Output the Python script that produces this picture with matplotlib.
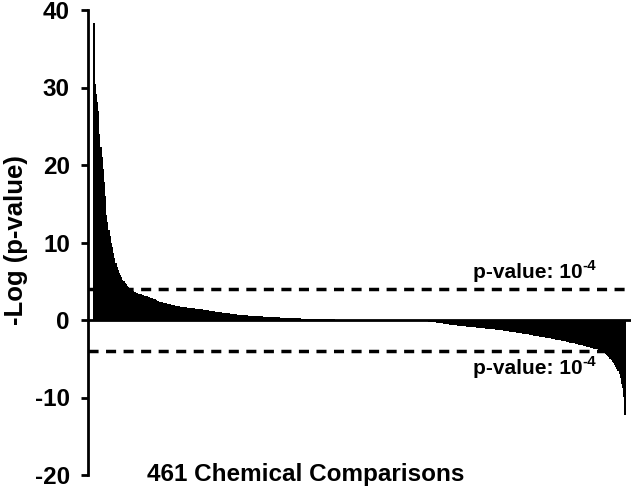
import matplotlib
matplotlib.use("Agg")
import matplotlib.pyplot as plt
import numpy as np

plt.rcParams['font.family'] = ['Liberation Sans', 'DejaVu Sans']
plt.rcParams['font.weight'] = 'bold'
plt.rcParams['axes.unicode_minus'] = False

# -Log(p-value) for 461 chemical comparisons, sorted descending
seg_a = [38.3, 30.5, 29.2, 28.1, 27.0, 24.0, 22.3, 21.0, 19.5, 17.8,
         16.0, 13.5, 12.6, 11.6, 10.8, 10.0, 9.4, 8.6, 8.0, 7.4,
         6.8, 6.5, 6.1, 5.8, 5.5, 5.2, 5.0, 4.8, 4.6, 4.45,
         4.3, 4.15, 4.0, 3.85, 3.7, 3.6, 3.55, 3.5, 3.45, 3.4,
         3.35, 3.3, 3.25, 3.2, 3.15, 3.1, 3.05, 3.0, 2.95, 2.9]
seg_b = [2.85, 2.8, 2.72, 2.65, 2.58, 2.5, 2.44, 2.38, 2.3, 2.27,
         2.23, 2.2, 2.16, 2.13, 2.1, 2.06, 2.03, 2.0, 1.96, 1.93,
         1.9, 1.86, 1.83, 1.8, 1.76]
seg_c = [1.72, 1.70, 1.68, 1.66, 1.64, 1.62, 1.60, 1.58, 1.56, 1.54,
         1.52, 1.50, 1.49, 1.47, 1.45, 1.44, 1.42]
seg_d = [1.40, 1.38, 1.36, 1.33, 1.31, 1.28, 1.26, 1.23, 1.21, 1.18,
         1.16, 1.14, 1.11, 1.09, 1.07, 1.04, 1.02]
seg_e = [1.00, 0.98, 0.96, 0.94, 0.92, 0.90, 0.88, 0.86, 0.84, 0.82,
         0.80, 0.78, 0.76, 0.74, 0.72, 0.70, 0.68, 0.66]
seg_f = [0.65, 0.64, 0.63, 0.62, 0.61, 0.60, 0.59, 0.58, 0.57, 0.56,
         0.55, 0.54, 0.53, 0.52, 0.51, 0.50, 0.49, 0.48, 0.47, 0.46,
         0.45, 0.44, 0.43, 0.42, 0.41, 0.40]
seg_g = [0.39, 0.385, 0.38, 0.37, 0.36, 0.355, 0.35, 0.34, 0.33, 0.32,
         0.31, 0.30, 0.295, 0.29, 0.28, 0.27, 0.26, 0.255, 0.25, 0.24,
         0.23, 0.22, 0.215, 0.21, 0.205, 0.20]
seg_h = [0.195, 0.19, 0.185, 0.18, 0.175, 0.17, 0.165, 0.16, 0.155, 0.15,
         0.145, 0.14, 0.135, 0.13, 0.125, 0.12, 0.11, 0.10]
seg_i = [0.095, 0.09, 0.088, 0.085, 0.082, 0.08, 0.078, 0.075, 0.072, 0.07,
         0.068, 0.065, 0.062, 0.06, 0.058, 0.055, 0.052, 0.05, 0.048, 0.045,
         0.042, 0.04, 0.038, 0.036, 0.034, 0.032, 0.03, 0.028, 0.026, 0.024,
         0.022, 0.02, 0.018, 0.016, 0.014, 0.012, 0.01, 0.009, 0.008, 0.006,
         0.005, 0.004, 0.002, 0.001]
seg_j = [-0.001, -0.002, -0.004, -0.005, -0.006, -0.008, -0.01, -0.012, -0.014, -0.016,
         -0.018, -0.02, -0.022, -0.025, -0.028, -0.03, -0.033, -0.036, -0.04, -0.043,
         -0.046, -0.05, -0.054, -0.058, -0.062, -0.066, -0.07, -0.075, -0.08, -0.085,
         -0.09, -0.095, -0.1, -0.105, -0.11, -0.115, -0.12, -0.125, -0.13, -0.135,
         -0.14, -0.145, -0.15, -0.155, -0.16, -0.165, -0.17, -0.18, -0.19, -0.2]
seg_k = [-0.22, -0.24, -0.26, -0.28, -0.3, -0.32, -0.34, -0.36, -0.38, -0.4,
         -0.42, -0.44, -0.46, -0.48, -0.51, -0.54, -0.57, -0.6]
seg_l = [-0.62, -0.63, -0.65, -0.66, -0.68, -0.7, -0.71, -0.73, -0.74, -0.76,
         -0.78, -0.79, -0.81, -0.82, -0.84, -0.86, -0.87, -0.89, -0.9, -0.92,
         -0.93, -0.95]
seg_m = [-0.97, -0.98, -1.0, -1.02, -1.03, -1.05, -1.06, -1.08, -1.1, -1.11,
         -1.13, -1.14, -1.16, -1.18, -1.19, -1.21, -1.22, -1.24, -1.26, -1.27,
         -1.29, -1.3]
seg_n = [-1.32, -1.34, -1.37, -1.39, -1.42, -1.44, -1.46, -1.49, -1.51, -1.54,
         -1.56, -1.58, -1.61, -1.63, -1.66, -1.68, -1.7, -1.73, -1.75, -1.78,
         -1.8, -1.82, -1.85, -1.87, -1.9]
seg_o = [-1.93, -1.96, -1.98, -2.01, -2.04, -2.06, -2.09, -2.12, -2.14, -2.17,
         -2.2, -2.22, -2.25, -2.28, -2.3, -2.33, -2.36, -2.38, -2.41, -2.44,
         -2.46, -2.49, -2.52, -2.54, -2.57, -2.6]
seg_p = [-2.63, -2.67, -2.7, -2.74, -2.77, -2.8, -2.84, -2.87, -2.91, -2.94,
         -2.97, -3.0, -3.03, -3.07, -3.1, -3.13, -3.17, -3.2]
seg_q = [-3.24, -3.28, -3.32, -3.36, -3.4, -3.44, -3.48, -3.52, -3.56, -3.6,
         -3.64, -3.68, -3.72, -3.76, -3.8, -3.85, -3.9]
seg_r = [-4.0, -4.1, -4.2, -4.3, -4.4, -4.5, -4.65, -4.8, -5.0]
seg_s = [-5.2, -5.4, -5.6, -5.8, -6.0, -6.3, -6.6, -7.0]
seg_t = [-7.5, -8.2, -8.8, -9.9, -12.3]

values = (seg_a + seg_b + seg_c + seg_d + seg_e + seg_f + seg_g + seg_h + seg_i +
          seg_j + seg_k + seg_l + seg_m + seg_n + seg_o + seg_p + seg_q + seg_r +
          seg_s + seg_t)

threshold = 4  # -log10(1e-4)
y_ticks = [-20, -10, 0, 10, 20, 30, 40]
x_label = "461 Chemical Comparisons"
y_label = "-Log (p-value)"
thr_base = "p-value: 10"
thr_exp = "-4"

fig = plt.figure(figsize=(6.31, 4.92), dpi=100)
W, H = 631, 492
ax = fig.add_axes([88 / W, 1 - 475 / H, (631 - 88) / W, (475 - 10) / H])

x = np.arange(len(values))
ax.bar(x, values, width=1.0, color='black', linewidth=0)

ax.set_xlim(-5.2, 465.2)
ax.set_ylim(-20, 40)
ax.axhline(0, color='black', lw=2)
for yv in (threshold, -threshold):
    ax.axhline(yv, color='black', lw=2.5, linestyle=(0, (2.9, 2.15)))

for s in ('top', 'right', 'bottom'):
    ax.spines[s].set_visible(False)
ax.spines['left'].set_linewidth(2)
ax.set_xticks([])
ax.set_yticks(y_ticks)
ax.set_yticklabels([str(v) for v in y_ticks])
ax.tick_params(axis='y', direction='out', length=5, width=2, pad=8, labelsize=17.5)
for lab in ax.get_yticklabels():
    lab.set_fontweight('bold')

fig.text(16 / W, 1 - 240 / H, y_label, rotation=90, ha='center', va='center',
         fontsize=18.5, fontweight='bold')
fig.text(306 / W, 1 - 474 / H, x_label, ha='center', va='center',
         fontsize=17.5, fontweight='bold')
for base_y in (278, 374):
    t = fig.text(473 / W, 1 - base_y / H, thr_base, ha='left', va='baseline',
                 fontsize=15, fontweight='bold')
    ax.annotate(thr_exp, xy=(1.0, 0.5), xycoords=t, ha='left', va='bottom',
                fontsize=11, fontweight='bold')

fig.savefig("out.png", dpi=100)
